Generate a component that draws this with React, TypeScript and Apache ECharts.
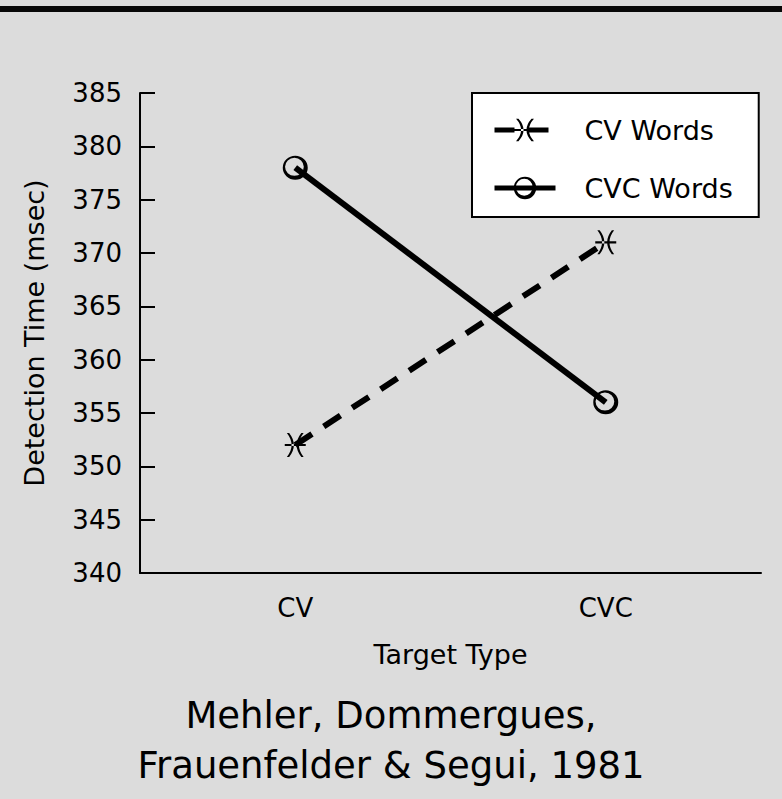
import React, { useEffect, useRef } from "react";
import * as echarts from "echarts";

const categories = ["CV", "CVC"];
const seriesNames = ["CV Words", "CVC Words"];
const cvWords = [352, 371];
const cvcWords = [378, 356];
const yMin = 340;
const yMax = 385;
const yInterval = 5;
const xAxisName = "Target Type";
const yAxisName = "Detection Time (msec)";
const titleLines = ["Mehler, Dommergues,", "Frauenfelder & Segui, 1981"];

const FONT = "DejaVu Sans";

const PISCES =
  "path://M2,0 Q11,11.5 2,23 L4.2,23 Q13.2,11.5 4.2,0 Z M18,0 Q9,11.5 18,23 L15.8,23 Q6.8,11.5 15.8,0 Z M0,10.5 L20,10.5 L20,12.5 L0,12.5 Z";
const RING =
  "path://M0,12 A12,12 0 1,1 24,12 A12,12 0 1,1 0,12 Z M2.2,11.2 A9,9 0 1,0 20.2,11.2 A9,9 0 1,0 2.2,11.2 Z";

export default function App() {
  const ref = useRef<HTMLDivElement>(null);
  useEffect(() => {
    document.body.style.margin = "0";
    const chart = echarts.init(ref.current!, null, { renderer: "svg" });
    chart.setOption({
      animation: false,
      backgroundColor: "#dcdcdc",
      graphic: [
        {
          type: "rect",
          shape: { x: 0, y: 6, width: 782, height: 6 },
          style: { fill: "#080808" },
        },
      ],
      title: {
        text: titleLines.join("\n"),
        left: "center",
        top: 685,
        textStyle: {
          fontFamily: FONT,
          fontSize: 37,
          fontWeight: "normal",
          color: "#000",
          lineHeight: 50,
        },
      },
      legend: {
        orient: "vertical",
        left: 472,
        top: 93,
        padding: [22, 26, 14, 20],
        backgroundColor: "#fff",
        borderColor: "#000",
        borderWidth: 2,
        borderRadius: 0,
        itemWidth: 61,
        itemHeight: 28,
        itemGap: 28,
        lineStyle: { width: 5 },
        textStyle: {
          fontFamily: FONT,
          fontSize: 27,
          color: "#000",
          lineHeight: 30,
          padding: [0, 0, 0, 24],
        },
        data: seriesNames,
      },
      grid: { left: 140, right: 21, top: 93, bottom: 226 },
      xAxis: {
        type: "category",
        data: categories,
        boundaryGap: true,
        name: xAxisName,
        nameLocation: "middle",
        nameGap: 68,
        nameTextStyle: { fontFamily: FONT, fontSize: 27, color: "#000" },
        axisLine: { lineStyle: { color: "#000", width: 2 } },
        axisTick: {
          alignWithLabel: true,
          inside: true,
          length: 15,
          lineStyle: { color: "#000", width: 2 },
        },
        axisLabel: { fontFamily: FONT, fontSize: 26, color: "#000", margin: 22 },
        splitLine: { show: false },
      },
      yAxis: {
        type: "value",
        min: yMin,
        max: yMax,
        interval: yInterval,
        name: yAxisName,
        nameLocation: "middle",
        nameGap: 92,
        nameTextStyle: { fontFamily: FONT, fontSize: 27, color: "#000" },
        axisLine: { show: true, lineStyle: { color: "#000", width: 2 } },
        axisTick: {
          show: true,
          inside: true,
          length: 15,
          lineStyle: { color: "#000", width: 2 },
        },
        axisLabel: { fontFamily: FONT, fontSize: 26, color: "#000", margin: 18 },
        splitLine: { show: false },
      },
      series: [
        {
          name: seriesNames[0],
          type: "line",
          data: cvWords,
          symbol: PISCES,
          symbolSize: [21, 24],
          itemStyle: { color: "#000" },
          lineStyle: { color: "#000", width: 6, type: [20, 14] },
          z: 3,
        },
        {
          name: seriesNames[1],
          type: "line",
          data: cvcWords,
          symbol: RING,
          symbolSize: [25, 24],
          itemStyle: { color: "#000" },
          lineStyle: { color: "#000", width: 6, type: "solid" },
          z: 3,
        },
      ],
    });
    return () => chart.dispose();
  }, []);
  return (
    <div
      ref={ref}
      style={{ position: "fixed", left: 0, top: 0, width: 782, height: 799 }}
    />
  );
}
